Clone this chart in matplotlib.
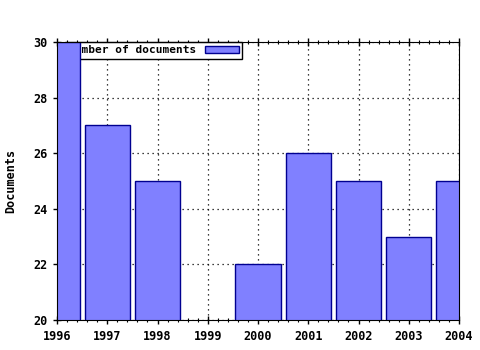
import matplotlib
matplotlib.use('Agg')
import matplotlib.pyplot as plt
from matplotlib.ticker import MultipleLocator

# documents per year (1999: none)
years = [1996, 1997, 1998, 1999, 2000, 2001, 2002, 2003, 2004]
docs = [30, 27, 25, 0, 22, 26, 25, 23, 25]

plt.rcParams['font.family'] = 'DejaVu Sans Mono'
plt.rcParams['font.weight'] = 'bold'
plt.rcParams['font.size'] = 8.5

fig = plt.figure(figsize=(4.8, 3.5), dpi=100)
ax = fig.add_axes([57/480, 30/350, 402/480, 278/350])

bars = ax.bar(years, docs, width=0.9, color='#8080ff',
              edgecolor='#000090', linewidth=1, label='Number of documents', zorder=2)

ax.set_xlim(1996, 2004)
ax.set_ylim(20, 30)
ax.set_xticks(years)
ax.set_yticks([20, 22, 24, 26, 28, 30])
ax.xaxis.set_minor_locator(MultipleLocator(0.2))
ax.grid(True, which='major', linestyle=(0, (1, 3)), color='black', linewidth=0.9, zorder=0)
ax.set_axisbelow(True)

ax.tick_params(which='major', direction='inout', length=6, width=1, top=True, right=False)
ax.tick_params(which='minor', direction='inout', length=3, width=0.8, top=True)
ax.tick_params(axis='x', pad=4)
for lab in ax.get_xticklabels() + ax.get_yticklabels():
    lab.set_fontweight('bold')

ax.set_ylabel('Documents', fontweight='bold', labelpad=12)

leg = ax.legend(loc='upper left', bbox_to_anchor=(8/402, 1.0), borderaxespad=0,
                markerfirst=False, fancybox=False, framealpha=1, edgecolor='black',
                handlelength=3.0, handleheight=0.6, borderpad=0.3, handletextpad=0.8,
                prop={'family': 'DejaVu Sans Mono', 'weight': 'bold', 'size': 8})
leg.get_frame().set_linewidth(1)
leg.set_zorder(1)

fig.savefig('out.png', dpi=100)
